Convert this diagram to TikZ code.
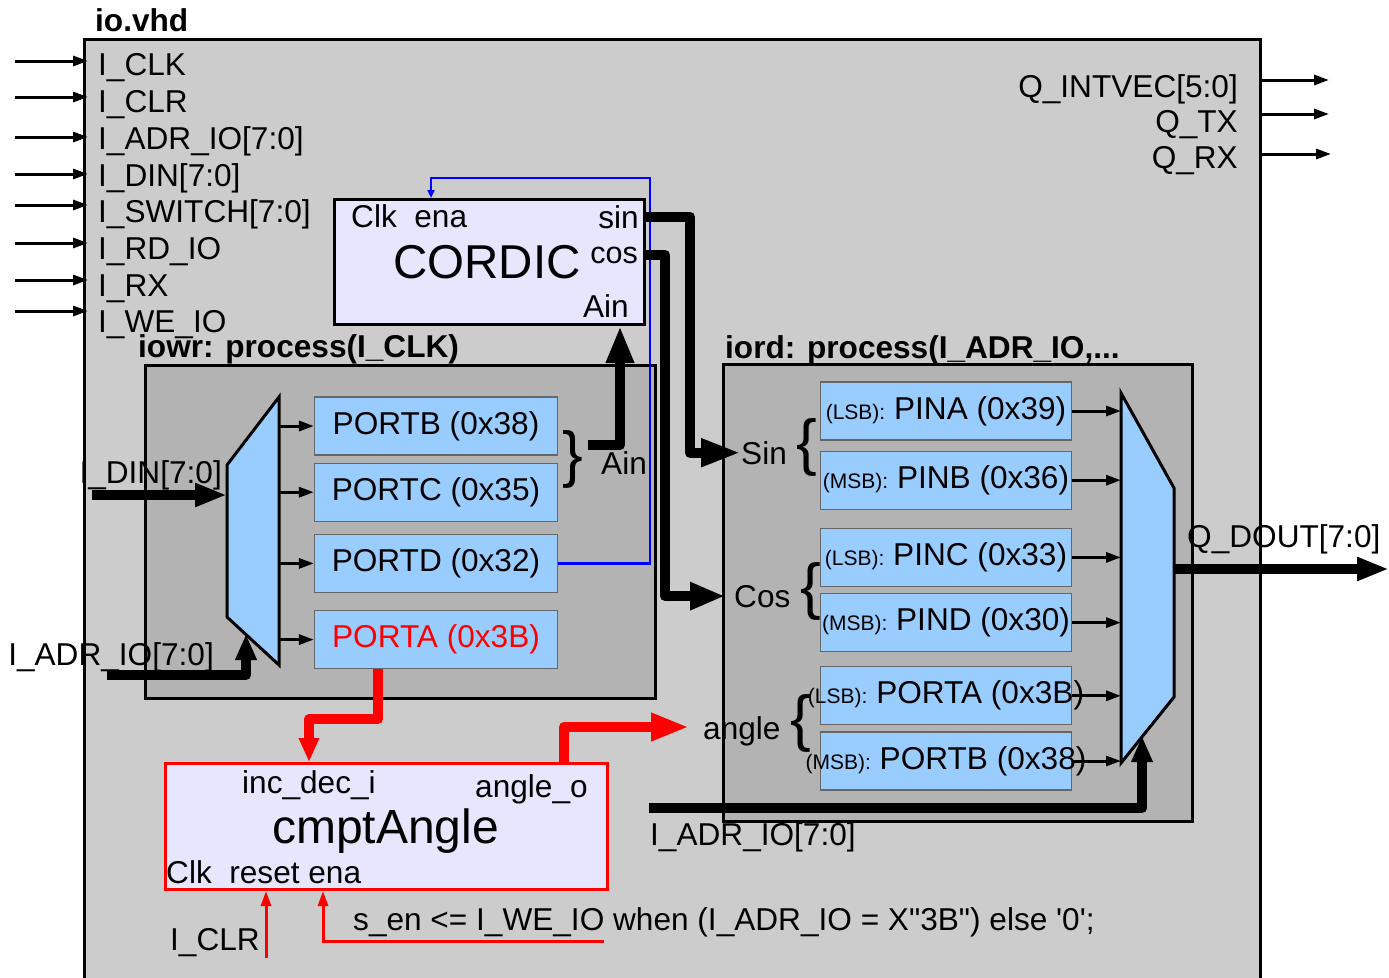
\documentclass[tikz,border=0pt]{standalone}
\usepackage{fontspec}
\setmainfont{Liberation Sans}
\usetikzlibrary{arrows.meta,positioning}
\definecolor{iogray}{HTML}{CCCCCC}
\definecolor{procgray}{HTML}{B3B3B3}
\definecolor{portblue}{HTML}{99CCFF}
\definecolor{unitfill}{HTML}{E6E6FF}
\newcommand{\fsz}[1]{\fontsize{#1}{#1}\selectfont}
\newcommand{\regtag}[2]{\makebox[230pt]{{\fsz{21}(#1):} #2}}

\begin{document}
\begin{tikzpicture}[
    x=1pt, y=-1pt,
    every node/.style={inner sep=0pt, font=\fsz{31.6}},
    frame/.style={draw, line width=3pt, anchor=north west},
    proc/.style={frame, fill=procgray},
    unit/.style={frame, fill=unitfill},
    portbox/.style={draw=black!60, line width=1.2pt, fill=portblue, minimum width=243pt, minimum height=58pt},
    pinbox/.style={portbox, minimum width=251pt},
    mux/.style={draw, line width=3pt, fill=portblue},
    brace/.style={font=\fsz{62}},
    pin/.style={-{Triangle[length=15pt,width=10pt]}, line width=3pt},
    bus/.style={-{Triangle[length=37pt,width=26pt]}, line width=10pt, line join=round},
    redbus/.style={bus, red},
    redpin/.style={pin, red}
]
\useasboundingbox[fill=white] (0,0) rectangle (1389,977);
\node[frame, fill=iogray, minimum width=1176pt, minimum height=990pt] (iovhd) at (83,38) {};
\node[anchor=base west, font=\fsz{31.6}\bfseries] (iotitle) at (95,31) {io.vhd};

\node[anchor=base west] (iclk) at (98,75) {I\_CLK};
\node[anchor=base west] (iclr) at (98,112) {I\_CLR};
\node[anchor=base west] (iadr) at (98,149) {I\_ADR\_IO[7:0]};
\node[anchor=base west] (idin) at (98,186) {I\_DIN[7:0]};
\node[anchor=base west] (iswitch) at (98,222) {I\_SWITCH[7:0]};
\node[anchor=base west] (irdio) at (98,259) {I\_RD\_IO};
\node[anchor=base west] (irx) at (98,296) {I\_RX};
\node[anchor=base west] (iweio) at (98,332) {I\_WE\_IO};
\draw[pin] (15,61) -- (88,61);
\draw[pin] (15,97) -- (88,97);
\draw[pin] (15,137) -- (88,137);
\draw[pin] (15,174) -- (88,174);
\draw[pin] (15,205) -- (88,205);
\draw[pin] (15,243) -- (88,243);
\draw[pin] (15,280) -- (88,280);
\draw[pin] (15,311) -- (88,311);

\node[anchor=base east] (qintvec) at (1238,97) {Q\_INTVEC[5:0]};
\node[anchor=base east] (qtx) at (1238,132) {Q\_TX};
\node[anchor=base east] (qrx) at (1238,168) {Q\_RX};
\draw[pin] (iovhd.east |- 0,80) -- (1329,80);
\draw[pin] (iovhd.east |- 0,114) -- (1329,114);
\draw[pin] (iovhd.east |- 0,154) -- (1331,154);

% CORDIC
\node[unit, minimum width=310pt, minimum height=125pt] (cordic) at (333,198) {};
\node[anchor=base west] (cordclk) at (351,227) {Clk\ \ ena};
\node[anchor=base east] (cordsin) at (639,228) {sin};
\node[anchor=base west, font=\fsz{47.5}] (cordname) at (393,278) {CORDIC};
\node[anchor=base east, font=\fsz{30.5}] (cordcos) at (638,263) {cos};
\node[anchor=base east] (cordain) at (629,317) {Ain};

% iowr
\node[proc, minimum width=510pt, minimum height=333pt] (iowr) at (144,364) {};
\node[anchor=base west, font=\fsz{31.6}\bfseries] (iowrtitle) at (138,357) {iowr: process(I\_CLK)};
\draw[mux] (227,465) coordinate (wmA) -- (279,397) coordinate (wmB) -- (279,665) coordinate (wmC) -- (227,617) coordinate (wmD) -- cycle;
\node[portbox] (portb) at (436,426) {PORTB (0x38)};
\node[portbox, below=7pt of portb] (portc) {PORTC (0x35)};
\node[portbox, below=12pt of portc] (portd) {PORTD (0x32)};
\node[portbox, below=17pt of portd, text=red] (porta) {PORTA (0x3B)};
\draw[pin] (wmB |- portb.west) -- (portb.west);
\draw[pin] (wmB |- portc.west) -- (portc.west);
\draw[pin] (wmB |- portd.west) -- (portd.west);
\draw[pin] (wmB |- porta.west) -- (porta.west);
\node[brace] (wbrace) at (573,459) {\}};
\node[anchor=base west] (ainlbl) at (601,474) {Ain};
\node[anchor=base east] (dinlbl) at (222,483) {I\_DIN[7:0]};
\node[anchor=base east] (adrlbl) at (214,665) {I\_ADR\_IO[7:0]};
\coordinate (ainsrc) at (588,445);
\coordinate (dinsrc) at (92,495);
\coordinate (adrsrc) at (107,675);
\draw[bus, -{Triangle[length=32pt,width=22pt]}] (dinsrc) -- (dinsrc -| wmA);
\draw[bus, -{Triangle[length=26pt,width=20pt]}] (adrsrc) -| (246,634);

% iord
\node[proc, minimum width=469pt, minimum height=457pt] (iord) at (722,363) {};
\node[anchor=base west, font=\fsz{31.6}\bfseries] (iordtitle) at (725,358) {iord: process(I\_ADR\_IO,...};
\draw[mux] (1121,393) coordinate (rmA) -- (1174,488) coordinate (rmB) -- (1174,697) coordinate (rmC) -- (1121,763) coordinate (rmD) -- cycle;
\node[pinbox] (pina) at (946,411) {\regtag{LSB}{PINA (0x39)}};
\node[pinbox, below=10pt of pina] (pinb) {\regtag{MSB}{PINB (0x36)}};
\node[pinbox, below=18pt of pinb] (pinc) {\regtag{LSB}{PINC (0x33)}};
\node[pinbox, below=6pt of pinc] (pind) {\regtag{MSB}{PIND (0x30)}};
\node[pinbox, below=14pt of pind] (rdporta) {\regtag{LSB}{PORTA (0x3B)}};
\node[pinbox, below=6pt of rdporta] (rdportb) {\regtag{MSB}{PORTB (0x38)}};
\draw[pin] (pina.east) -- (pina.east -| rmA);
\draw[pin] (pinb.east) -- (pinb.east -| rmA);
\draw[pin] (pinc.east) -- (pinc.east -| rmA);
\draw[pin] (pind.east) -- (pind.east -| rmA);
\draw[pin] (rdporta.east) -- (rdporta.east -| rmA);
\draw[pin] (rdportb.east) -- (rdportb.east -| rmA);
\node[brace] (sinbrace) at (807,447) {\{};
\node[brace] (cosbrace) at (811,591) {\{};
\node[brace] (angbrace) at (801,723) {\{};
\node[anchor=base west] (sinlbl) at (741,464) {Sin};
\node[anchor=base west] (coslbl) at (734,607) {Cos};
\node[anchor=base west] (anglbl) at (703,739) {angle};
\node[anchor=base west] (doutlbl) at (1187,547) {Q\_DOUT[7:0]};
\node[anchor=base west] (adrlbl2) at (650,845) {I\_ADR\_IO[7:0]};
\coordinate (doutdst) at (1389,569);
\coordinate (adrsrc2) at (649,808);
\draw[bus, -{Triangle[length=32pt,width=22pt]}] (rmB |- doutdst) -- (doutdst);
\draw[bus, -{Triangle[length=26pt,width=20pt]}] (adrsrc2) -| (1142,736);

% CORDIC links
\draw[blue, line width=2.5pt, -{Triangle[length=8pt,width=7pt]}] (portd.east) -| (650,178) -| ([xshift=98pt]cordic.north west);
\draw[bus] (ainsrc) -| ([xshift=-26pt]cordic.south east);
\draw[bus, -{Triangle[length=40pt,width=26pt]}] (cordic.east |- cordsin.east) -- ++(44,0) |- (sinlbl.west);
\draw[bus, -{Triangle[length=35pt,width=26pt]}] (cordic.east |- cordcos.east) -- ++(19,0) |- ([xshift=-9pt]coslbl.west);

% cmptAngle
\node[unit, draw=red, minimum width=442pt, minimum height=126pt] (cmpt) at (164,762) {};
\node[anchor=base west] (cmptinc) at (242,793) {inc\_dec\_i};
\node[anchor=base west] (cmptout) at (475,797) {angle\_o};
\node[anchor=base west, font=\fsz{48}] (cmptname) at (272,843) {cmptAngle};
\node[anchor=base west] (cmptclk) at (166,883) {Clk\ \ reset ena};
\node[anchor=base west] (clrlbl) at (170,950) {I\_CLR};
\node[anchor=base west] (senlbl) at (353,930) {s\_en <= I\_WE\_IO when (I\_ADR\_IO = X\textquotedbl 3B\textquotedbl) else \textquotesingle 0\textquotesingle;};
\coordinate (angdst) at (689,727);
\coordinate (clrsrc) at (266,958);
\coordinate (ensrc) at (604,941);
\draw[redbus, -{Triangle[length=24pt,width=19pt]}] ([xshift=-58pt]porta.south) -- ++(0,50) -| ([xshift=145pt]cmpt.north west);
\draw[redbus, -{Triangle[length=38pt,width=26pt]}] ([xshift=400pt]cmpt.north west) |- (angdst);
\draw[redpin] (clrsrc) -- (clrsrc |- cmpt.south);
\draw[redpin] (ensrc) -| ([xshift=159pt]cmpt.south west);
\end{tikzpicture}
\end{document}
